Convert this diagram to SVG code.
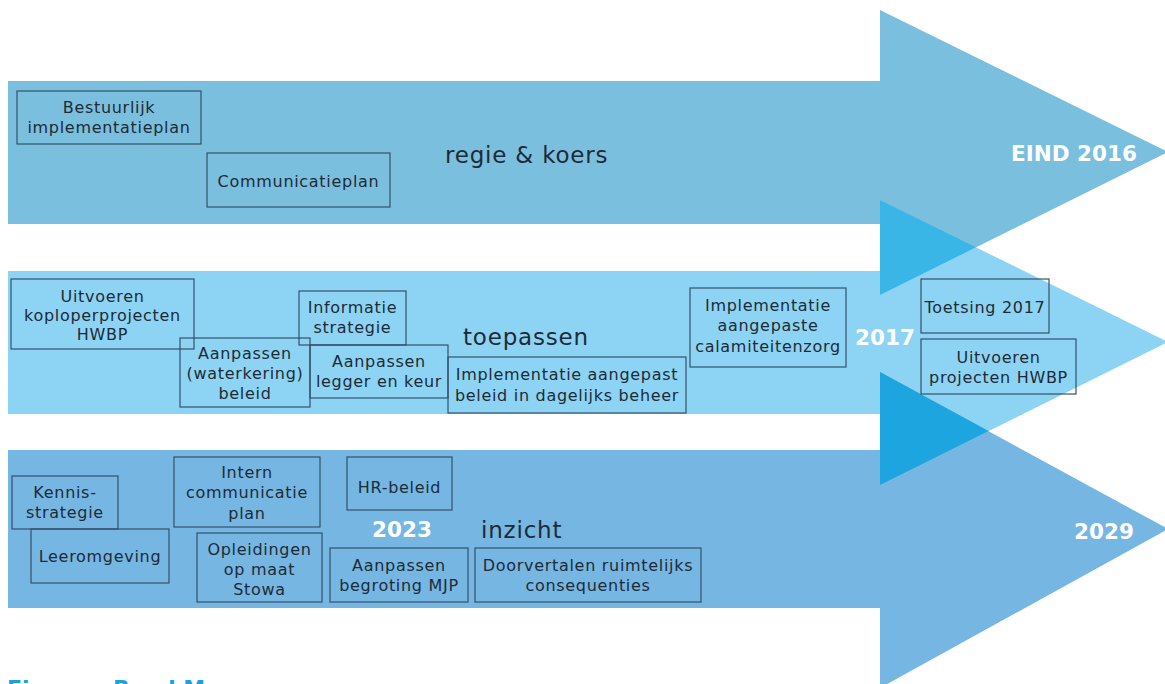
<svg xmlns="http://www.w3.org/2000/svg" width="1165" height="684" viewBox="0 0 1165 684">
<style>
.box{fill:none;stroke:#34506a;stroke-width:1.2}
.t{font-family:"DejaVu Sans","Liberation Sans",sans-serif;font-size:16px;fill:#1e2b36;text-anchor:middle;letter-spacing:0.7px}
.lane{font-family:"DejaVu Sans","Liberation Sans",sans-serif;font-size:23px;fill:#1e2b36;letter-spacing:0.8px}
.yr{font-family:"DejaVu Sans","Liberation Sans",sans-serif;font-weight:bold;font-size:21.5px;fill:#ffffff}
.cap{font-family:"DejaVu Sans","Liberation Sans",sans-serif;font-weight:bold;font-size:22px;fill:#1ba1dc}
</style>
<rect width="1165" height="684" fill="#ffffff"/>
<g id="arrows">
  <polygon id="arrow-top" fill="#7bbfdf" points="8,81 880,81 880,10 1168,152 880,295 880,224 8,224"/>
  <polygon id="arrow-mid" fill="#8dd4f4" points="8,271 880,271 880,200 1168,342 880,485 880,414 8,414"/>
  <polygon id="arrow-bot" fill="#75b6e3" points="8,450 880,450 880,372 1168,529 880,688 880,608 8,608"/>
  <polygon fill="#3ab6e6" points="880,200 976,247.3 880,295"/>
  <polygon fill="#1ca5df" points="880,372 988.5,431.1 880,485"/>
</g>
<g id="connectors"></g>
<g id="lane-labels">
  <text class="lane" x="445" y="163">regie &amp; koers</text>
  <text class="lane" x="463" y="345">toepassen</text>
  <text class="lane" x="481" y="538">inzicht</text>
  <text class="yr" x="1011" y="161">EIND 2016</text>
  <text class="yr" x="855" y="345">2017</text>
  <text class="yr" x="372" y="537">2023</text>
  <text class="yr" x="1074" y="539">2029</text>
</g>
<g id="n-bestuurlijk"><rect class="box" x="17" y="91" width="184" height="53"/><text class="t" x="109" y="113">Bestuurlijk</text><text class="t" x="109" y="133">implementatieplan</text></g>
<g id="n-communicatieplan"><rect class="box" x="207" y="153" width="183" height="54"/><text class="t" x="298.5" y="187">Communicatieplan</text></g>
<g id="n-koploper"><rect class="box" x="11" y="279" width="183" height="70"/><text class="t" x="102.5" y="302">Uitvoeren</text><text class="t" x="102.5" y="321">koploperprojecten</text><text class="t" x="102.5" y="340">HWBP</text></g>
<g id="n-informatie"><rect class="box" x="299" y="291" width="107" height="54"/><text class="t" x="352.5" y="313">Informatie</text><text class="t" x="352.5" y="333">strategie</text></g>
<g id="n-waterkering"><rect class="box" x="180" y="338" width="130" height="69"/><text class="t" x="245" y="359">Aanpassen</text><text class="t" x="245" y="379">(waterkering)</text><text class="t" x="245" y="399">beleid</text></g>
<g id="n-legger"><rect class="box" x="310" y="345" width="138" height="53"/><text class="t" x="379" y="367">Aanpassen</text><text class="t" x="379" y="387">legger en keur</text></g>
<g id="n-dagelijks"><rect class="box" x="448" y="357" width="238" height="56"/><text class="t" x="567" y="380">Implementatie aangepast</text><text class="t" x="567" y="401">beleid in dagelijks beheer</text></g>
<g id="n-calamiteiten"><rect class="box" x="690" y="288" width="156" height="79"/><text class="t" x="768" y="311">Implementatie</text><text class="t" x="768" y="331">aangepaste</text><text class="t" x="768" y="352">calamiteitenzorg</text></g>
<g id="n-toetsing"><rect class="box" x="921" y="279" width="128" height="54"/><text class="t" x="985" y="313">Toetsing 2017</text></g>
<g id="n-projecten"><rect class="box" x="921" y="339" width="155" height="55"/><text class="t" x="998.5" y="363">Uitvoeren</text><text class="t" x="998.5" y="383">projecten HWBP</text></g>
<g id="n-kennis"><rect class="box" x="12" y="476" width="106" height="53"/><text class="t" x="65" y="498">Kennis-</text><text class="t" x="65" y="518">strategie</text></g>
<g id="n-leeromgeving"><rect class="box" x="31" y="529" width="138" height="54"/><text class="t" x="100" y="562">Leeromgeving</text></g>
<g id="n-intern"><rect class="box" x="174" y="457" width="146" height="70"/><text class="t" x="247" y="478">Intern</text><text class="t" x="247" y="498">communicatie</text><text class="t" x="247" y="519">plan</text></g>
<g id="n-opleidingen"><rect class="box" x="197" y="533" width="125" height="69"/><text class="t" x="259.5" y="555">Opleidingen</text><text class="t" x="259.5" y="575">op maat</text><text class="t" x="259.5" y="595">Stowa</text></g>
<g id="n-hr"><rect class="box" x="347" y="457" width="105" height="53"/><text class="t" x="399.5" y="493">HR-beleid</text></g>
<g id="n-begroting"><rect class="box" x="330" y="548" width="138" height="54"/><text class="t" x="399" y="571">Aanpassen</text><text class="t" x="399" y="591">begroting MJP</text></g>
<g id="n-ruimtelijk"><rect class="box" x="475" y="548" width="226" height="54"/><text class="t" x="588" y="571">Doorvertalen ruimtelijks</text><text class="t" x="588" y="591">consequenties</text></g>
<text class="cap" x="7" y="696">Figuur: <tspan x="113">Road Map</tspan></text>
</svg>
